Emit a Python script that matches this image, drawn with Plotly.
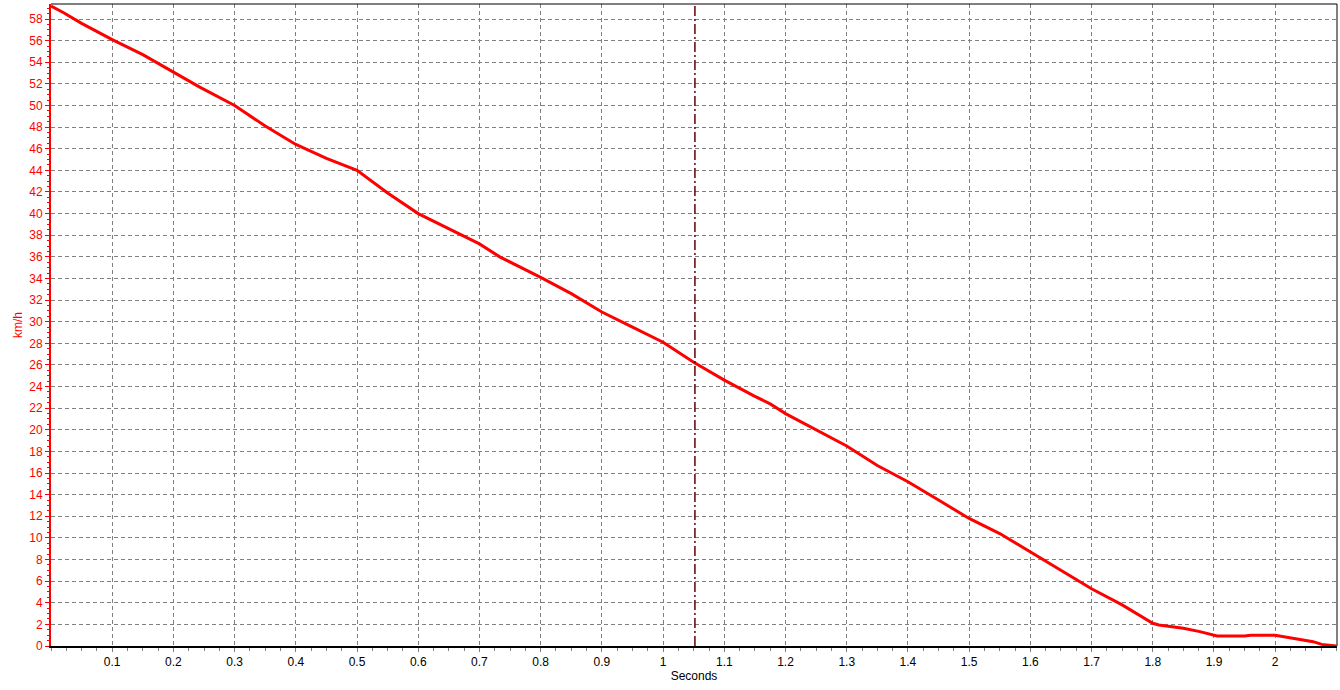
import plotly.graph_objects as go

# Data
time_s = [0.0, 0.02, 0.05, 0.1, 0.15, 0.2, 0.243, 0.3, 0.35, 0.4, 0.45, 0.5, 0.55, 0.6,
          0.65, 0.7, 0.733, 0.8, 0.85, 0.9, 0.95, 1.0, 1.05, 1.1, 1.15, 1.175, 1.2,
          1.25, 1.3, 1.35, 1.4, 1.45, 1.5, 1.55, 1.6, 1.65, 1.7, 1.75, 1.8, 1.81,
          1.85, 1.877, 1.905, 1.95, 1.96, 2.0, 2.035, 2.062, 2.076, 2.09, 2.1]
speed_kmh = [59.2, 58.6, 57.6, 56.1, 54.7, 53.1, 51.7, 50.0, 48.1, 46.4, 45.1, 44.0, 41.9, 40.0,
             38.6, 37.2, 36.0, 34.1, 32.6, 30.9, 29.5, 28.1, 26.25, 24.6, 23.1, 22.4, 21.5,
             20.0, 18.5, 16.7, 15.2, 13.5, 11.8, 10.4, 8.7, 7.0, 5.3, 3.8, 2.1, 1.95,
             1.64, 1.33, 0.93, 0.93, 1.0, 1.0, 0.65, 0.4, 0.15, 0.05, 0.0]
cursor_t = [1.052]
x_tick_vals = [round(0.1 * i, 1) for i in range(1, 21)]
x_tick_text = ["0.1", "0.2", "0.3", "0.4", "0.5", "0.6", "0.7", "0.8", "0.9", "1",
               "1.1", "1.2", "1.3", "1.4", "1.5", "1.6", "1.7", "1.8", "1.9", "2"]
y_tick_vals = list(range(0, 60, 2))

FONT = "Liberation Sans, Arial, sans-serif"

fig = go.Figure()
fig.add_trace(go.Scatter(x=time_s, y=speed_kmh, mode="lines",
                         line=dict(color="#ff0000", width=3), hoverinfo="skip"))

fig.add_shape(type="line", xref="x", yref="paper", x0=cursor_t[0], x1=cursor_t[0], y0=0, y1=1,
              line=dict(color="#600000", width=1.5, dash="10px,3px,2px,3px"), layer="above")
# frame top & right
fig.add_shape(type="line", xref="paper", yref="paper", x0=0, x1=1, y0=1, y1=1,
              line=dict(color="black", width=1), layer="above")
fig.add_shape(type="line", xref="paper", yref="paper", x0=1, x1=1, y0=0, y1=1,
              line=dict(color="black", width=1), layer="above")

fig.update_layout(
    width=1340, height=690,
    margin=dict(l=51, r=3, t=4, b=44, autoexpand=False),
    paper_bgcolor="white", plot_bgcolor="white",
    showlegend=False,
    font=dict(family=FONT, size=12),
    xaxis=dict(
        range=[0, 2.101], tickmode="array", tickvals=x_tick_vals, ticktext=x_tick_text,
        showgrid=True, gridcolor="#808080", griddash="4px,3px", gridwidth=1,
        zeroline=False, showline=True, linecolor="black", linewidth=2,
        ticks="outside", ticklen=4, tickcolor="#808080", tickwidth=1,
        tickfont=dict(color="black", size=12, family=FONT),
        minor=dict(tickmode="linear", tick0=0, dtick=0.025, ticks="outside", ticklen=3,
                   tickcolor="#808080", showgrid=False),
        title=dict(text="Seconds", font=dict(color="black", size=12, family=FONT), standoff=2),
        automargin=False, fixedrange=True,
    ),
    yaxis=dict(
        range=[0, 59.39], tickmode="array", tickvals=y_tick_vals,
        showgrid=True, gridcolor="#808080", griddash="4px,3px", gridwidth=1,
        zeroline=False, showline=True, linecolor="#ff0000", linewidth=2,
        ticks="outside", ticklen=4, tickcolor="#ff0000", tickwidth=1,
        tickfont=dict(color="#ff0000", size=12, family=FONT),
        minor=dict(tickmode="linear", tick0=0, dtick=0.5, ticks="outside", ticklen=2,
                   tickcolor="#ff0000", showgrid=False),
        title=dict(text="km/h", font=dict(color="#ff0000", size=12, family=FONT), standoff=4),
        automargin=False, fixedrange=True,
    ),
)

fig.write_html("out.html", config={"displayModeBar": False},
               post_script="document.body.style.margin='0';document.body.style.overflow='hidden';")
